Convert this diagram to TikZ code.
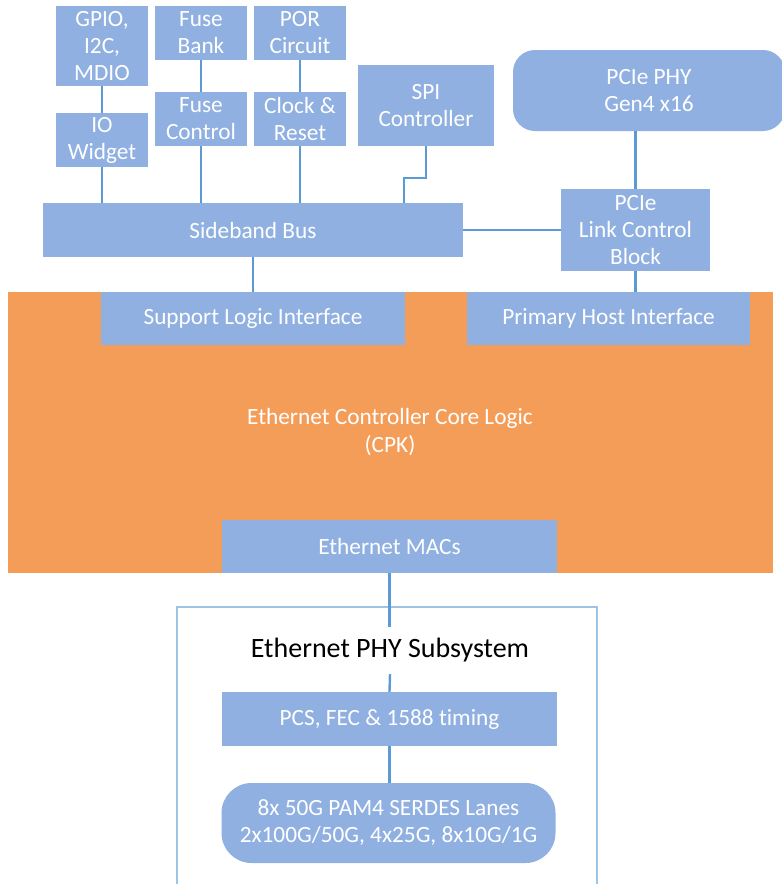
\documentclass[tikz,border=0pt]{standalone}
\usepackage{fontspec}
\setmainfont{Carlito}[Ligatures=NoCommon]
\definecolor{blkfill}{HTML}{8FB0E0}
\definecolor{linecol}{HTML}{5B9BD5}
\definecolor{orangefill}{HTML}{F49D59}
\definecolor{phyline}{HTML}{9DC3E6}
\begin{document}
\begin{tikzpicture}[x=1pt,y=-1pt,
  blk/.style={fill=blkfill, draw=none, text=white, align=center, inner sep=0pt,
    font=\fontsize{23.3}{27}\selectfont},
  conn/.style={draw=linecol, line width=2.4pt},
]
\useasboundingbox (0,0) rectangle (782,884);
% orange core
\node[fill=orangefill, draw=none, minimum width=765, minimum height=281, inner sep=0pt, anchor=north west] (core) at (8,292) {};
\node[text=white, align=center, font=\fontsize{23.3}{28}\selectfont] (coretext) at (390,432) {Ethernet Controller Core Logic\\(CPK)};
% top blocks
\node[blk, minimum width=92, minimum height=80] (gpio) at (102,46) {GPIO,\\I2C,\\MDIO};
\node[blk, minimum width=92, minimum height=54] (iow) at (102,140) {IO\\Widget};
\node[blk, minimum width=92, minimum height=54] (fbank) at (201,33) {Fuse\\Bank};
\node[blk, minimum width=92, minimum height=54] (fctl) at (201,119) {Fuse\\Control};
\node[blk, minimum width=92, minimum height=54] (por) at (300,33) {POR\\Circuit};
\node[blk, minimum width=92, minimum height=54] (clk) at (300,119) {Clock \&\\Reset};
\node[blk, minimum width=136, minimum height=81] (spi) at (426,105.5) {SPI\\Controller};
\node[blk, minimum width=420, minimum height=54] (bus) at (253,230) {Sideband Bus};
\node[blk, minimum width=272, minimum height=81, rounded corners=22pt] (phy) at (649,90.5) {PCIe PHY\\Gen4 x16};
\node[blk, minimum width=149, minimum height=82] (lcb) at (635.5,230) {PCIe\\Link Control\\Block};
\node[blk, minimum width=304, minimum height=53] (sli) at (253,318.5) {Support Logic Interface};
\node[blk, minimum width=283, minimum height=53] (phi) at (608.5,318.5) {Primary Host Interface};
\node[blk, minimum width=335, minimum height=53] (macs) at (389.5,546.5) {Ethernet MACs};
% PHY subsystem
\draw[draw=phyline, line width=1.3pt] (177,890) -- (177,607) -- (597,607) -- (597,890);
\node[text=black, font=\fontsize{28}{32}\selectfont, minimum height=47, inner sep=0pt] (title) at (390,650.5) {Ethernet PHY Subsystem};
\node[blk, minimum width=335, minimum height=54] (pcs) at (389.5,719) {PCS, FEC \& 1588 timing};
\node[blk, minimum width=334, minimum height=80, rounded corners=30pt] (serdes) at (388.5,823) {8x 50G PAM4 SERDES Lanes\\2x100G/50G, 4x25G, 8x10G/1G};
% connectors
\draw[conn] (gpio.south) -- (iow.north);
\draw[conn] (iow.south) -- (iow.south |- bus.north);
\draw[conn] (fbank.south) -- (fctl.north);
\draw[conn] (fctl.south) -- (fctl.south |- bus.north);
\draw[conn] (por.south) -- (clk.north);
\draw[conn] (clk.south) -- (clk.south |- bus.north);
\draw[conn] (spi.south) -- ++(0,32) -- ++(-22,0) coordinate (spibend) -- (spibend |- bus.north);
\draw[conn] (bus.east) -- (lcb.west);
\draw[conn] (lcb.north |- phy.south) -- (lcb.north);
\draw[conn] (lcb.south) -- (lcb.south |- phi.north);
\draw[conn] (bus.south) -- (sli.north);
\draw[conn] (macs.south) -- (macs.south |- title.north);
\draw[conn] (title.south) -- (pcs.north);
\draw[conn] (pcs.south) -- (pcs.south |- serdes.north);
\end{tikzpicture}
\end{document}
